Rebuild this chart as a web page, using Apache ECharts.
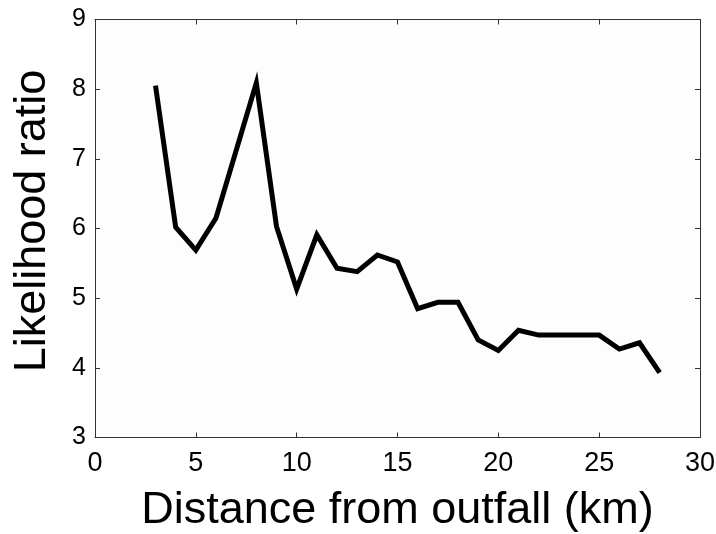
<!DOCTYPE html>
<html>
<head>
<meta charset="utf-8">
<script src="https://cdn.jsdelivr.net/npm/echarts@6/dist/echarts.min.js"></script>
<style>
html,body{margin:0;padding:0;background:#fff;}
#c{width:716px;height:534px;}
</style>
</head>
<body>
<div id="c"></div>
<script>
var distances = [3,4,5,6,7,8,9,10,11,12,13,14,15,16,17,18,19,20,21,22,23,24,25,26,27,28];
var ratios = [8.05,6.02,5.69,6.15,7.12,8.09,6.03,5.13,5.91,5.43,5.38,5.62,5.52,4.85,4.94,4.94,4.40,4.25,4.54,4.47,4.47,4.47,4.47,4.27,4.36,3.93];
var xTicks = [0,5,10,15,20,25,30];
var yTicks = [3,4,5,6,7,8,9];
var xTitle = 'Distance from outfall (km)';
var yTitle = 'Likelihood ratio';

var chart = echarts.init(document.getElementById('c'), null, {renderer:'canvas'});
var font = 'Liberation Sans, Arial, Helvetica, sans-serif';
var axisLineStyle = {color:'#333', width:1};
function baseAxis(extra){
  return Object.assign({
    axisLine:{show:true, onZero:false, lineStyle:axisLineStyle},
    axisTick:{show:true, inside:true, length:5, lineStyle:axisLineStyle},
    splitLine:{show:false}
  }, extra);
}
var data = distances.map(function(d,i){return [d, ratios[i]];});
chart.setOption({
  backgroundColor:'#ffffff',
  animation:false,
  grid:{left:95, right:16, top:19.5, bottom:96.5, containLabel:false, outerBoundsMode:'none',
    show:true, backgroundColor:'#fdfdfd', borderWidth:0},
  xAxis:[
    baseAxis({type:'value', position:'bottom', min:xTicks[0], max:xTicks[xTicks.length-1], interval:5,
      name:xTitle, nameLocation:'middle', nameGap:51,
      nameTextStyle:{fontFamily:font, fontSize:45, color:'#000'},
      axisLabel:{fontFamily:font, fontSize:27, color:'#000', margin:13}}),
    baseAxis({type:'value', position:'top', min:xTicks[0], max:xTicks[xTicks.length-1], interval:5,
      axisLabel:{show:false}})
  ],
  yAxis:[
    baseAxis({type:'value', position:'left', min:yTicks[0], max:yTicks[yTicks.length-1], interval:1,
      name:yTitle, nameLocation:'middle', nameGap:40,
      nameTextStyle:{fontFamily:font, fontSize:45, color:'#000', padding:[0,0,0,15]},
      axisLabel:{fontFamily:font, fontSize:25, color:'#000', margin:9}}),
    baseAxis({type:'value', position:'right', min:yTicks[0], max:yTicks[yTicks.length-1], interval:1,
      axisLabel:{show:false}})
  ],
  series:[{
    type:'line', data:data, xAxisIndex:0, yAxisIndex:0,
    symbol:'none', smooth:false,
    lineStyle:{color:'#000', width:5, join:'miter', cap:'butt'}
  }]
});
</script>
</body>
</html>
